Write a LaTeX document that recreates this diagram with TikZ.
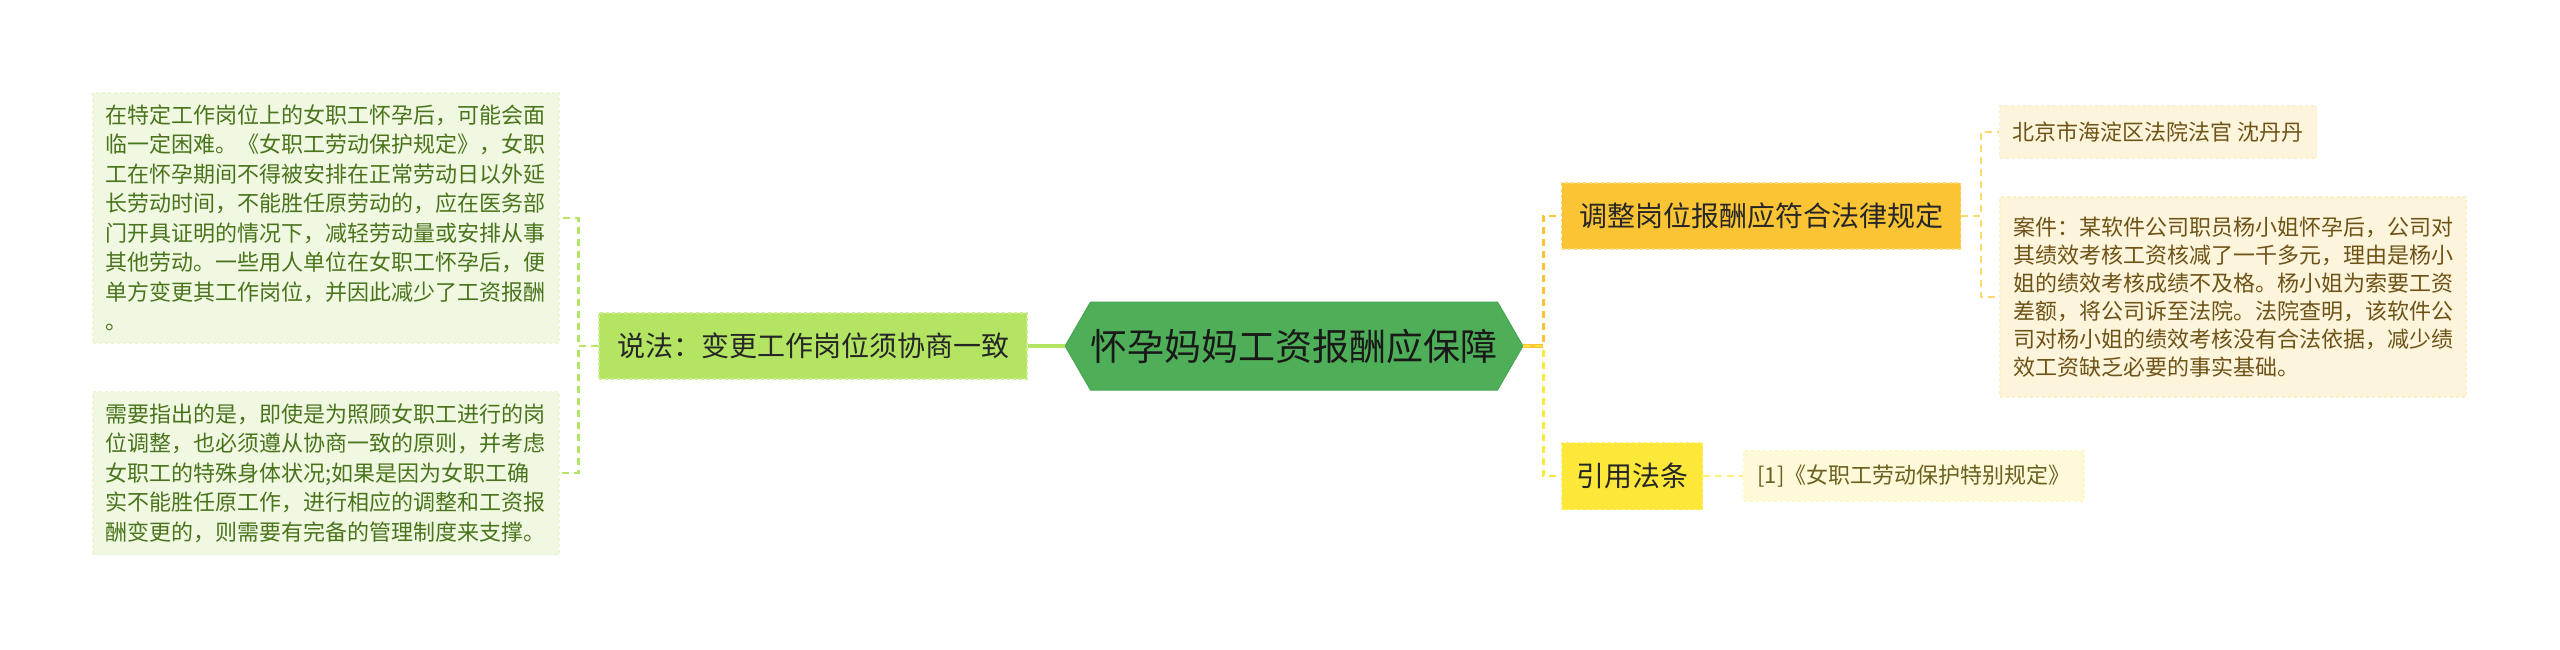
\documentclass[tikz,border=0pt]{standalone}
\usepackage{fontspec}
\setmainfont{Noto Sans CJK SC}
\usetikzlibrary{shapes.symbols}
\definecolor{rootfill}{HTML}{4FAE58}
\definecolor{rootline}{HTML}{47A450}
\definecolor{sayfill}{HTML}{B3E462}
\definecolor{sayline}{HTML}{CBEE8E}
\definecolor{sayleaf}{HTML}{F0F8E2}
\definecolor{saytext}{HTML}{4A741C}
\definecolor{adjfill}{HTML}{FAC435}
\definecolor{adjline}{HTML}{FCD772}
\definecolor{adjleaf}{HTML}{FDF4DC}
\definecolor{adjtext}{HTML}{6E5317}
\definecolor{citefill}{HTML}{FDE83A}
\definecolor{citeline}{HTML}{FEF07E}
\definecolor{citeleaf}{HTML}{FEF9D8}
\definecolor{citetext}{HTML}{6B6020}

\begin{document}
\begin{tikzpicture}[x=1pt,y=-1pt,
  branch/.style={inner sep=0pt,line width=1.2pt,dashed,text=black!85,font=\fontsize{28}{32}\selectfont},
  leaf/.style={inner sep=0pt,line width=1.2pt,dashed,align=left,font=\fontsize{22}{28}\selectfont},
  link/.style={line width=2.4pt,dash pattern=on 7pt off 5pt}]
\path[use as bounding box] (0,0) rectangle (2560,650);
\node[signal,signal to=west and east,signal pointer angle=120,fill=rootfill,draw=rootline,line width=1pt,
  minimum width=456pt,minimum height=88pt,inner sep=0pt,text=black!90,font=\fontsize{37}{40}\selectfont]
  (root) at (1294,346) {怀孕妈妈工资报酬应保障};
\node[branch,fill=sayfill,draw=sayline,minimum width=428pt,minimum height=66pt] (say) at (813,346) {说法：变更工作岗位须协商一致};
\node[leaf,fill=sayleaf,draw=sayleaf!80!sayline,text=saytext,font=\fontsize{22}{29.5}\selectfont,
  minimum width=466pt,minimum height=250pt,text width=442pt] (work) at (326,218)
  {在特定工作岗位上的女职工怀孕后，可能会面\\
临一定困难。《女职工劳动保护规定》，女职\\
工在怀孕期间不得被安排在正常劳动日以外延\\
长劳动时间，不能胜任原劳动的，应在医务部\\
门开具证明的情况下，减轻劳动量或安排从事\\
其他劳动。一些用人单位在女职工怀孕后，便\\
单方变更其工作岗位，并因此减少了工资报酬\\
。};
\node[leaf,fill=sayleaf,draw=sayleaf!80!sayline,text=saytext,font=\fontsize{22}{29.5}\selectfont,
  minimum width=466pt,minimum height=163pt,text width=442pt] (care) at (326,473)
  {需要指出的是，即使是为照顾女职工进行的岗\\
位调整，也必须遵从协商一致的原则，并考虑\\
女职工的特殊身体状况;如果是因为女职工确\\
实不能胜任原工作，进行相应的调整和工资报\\
酬变更的，则需要有完备的管理制度来支撑。};
\node[branch,fill=adjfill,draw=adjline,minimum width=399pt,minimum height=66pt] (adj) at (1761,216) {调整岗位报酬应符合法律规定};
\node[branch,fill=citefill,draw=citeline,minimum width=141pt,minimum height=67pt] (cite) at (1632,476) {引用法条};
\node[leaf,fill=adjleaf,draw=adjleaf!80!adjline,text=adjtext,minimum width=317pt,minimum height=52pt] (judge) at (2158,132) {北京市海淀区法院法官 沈丹丹};
\node[leaf,fill=adjleaf,draw=adjleaf!80!adjline,text=adjtext,minimum width=466pt,minimum height=200pt,text width=440pt] (case) at (2233,297)
  {案件：某软件公司职员杨小姐怀孕后，公司对\\
其绩效考核工资核减了一千多元，理由是杨小\\
姐的绩效考核成绩不及格。杨小姐为索要工资\\
差额，将公司诉至法院。法院查明，该软件公\\
司对杨小姐的绩效考核没有合法依据，减少绩\\
效工资缺乏必要的事实基础。};
\node[leaf,fill=citeleaf,draw=citeleaf!80!citeline,text=citetext,minimum width=340pt,minimum height=50pt] (law) at (1914,476) {[1]《女职工劳动保护特别规定》};
\draw[sayfill,line width=3.5pt] (root.west) -- (say.east);
\draw[link,sayfill] (say.west) -- ++(-20,0) |- (work.east);
\draw[link,sayfill] (say.west) -- ++(-20,0) |- (care.east);
\draw[adjfill,line width=3.5pt] (root.east) -- ++(20,0);
\draw[link,adjfill] (root.east) -- ++(20,0) |- (adj.west);
\draw[link,citefill] (root.east) -- ++(20,0) |- (cite.west);
\draw[link,adjline] (adj.east) -- ++(20,0) |- (judge.west);
\draw[link,adjline] (adj.east) -- ++(20,0) |- (case.west);
\draw[link,citeline] (cite.east) -- (law.west);
\end{tikzpicture}
\end{document}
